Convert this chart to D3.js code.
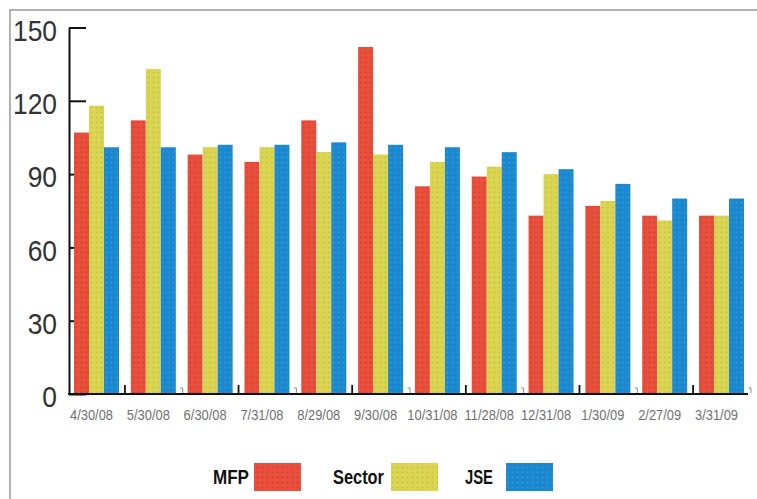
<!DOCTYPE html>
<html>
<head>
<meta charset="utf-8">
<script src="https://cdn.jsdelivr.net/npm/d3@7"></script>
<style>
  html, body { margin: 0; padding: 0; background: #fff; }
  svg { display: block; }
  .sans { font-family: "Liberation Sans", Arial, sans-serif; }
</style>
</head>
<body>
<svg id="chart" width="757" height="499"></svg>
<script>
// Month-end dates on the x axis
const categories = ["4/30/08", "5/30/08", "6/30/08", "7/31/08", "8/29/08", "9/30/08",
                    "10/31/08", "11/28/08", "12/31/08", "1/30/09", "2/27/09", "3/31/09"];
// Series names and values
const seriesNames = ["MFP", "Sector", "JSE"];
const mfpValues    = [107, 112, 98, 95, 112, 142, 85, 89, 73, 77, 73, 73];
const sectorValues = [118, 133, 101, 101, 99, 98, 95, 93, 90, 79, 71, 73];
const jseValues    = [101, 101, 102, 102, 103, 102, 101, 99, 92, 86, 80, 80];
// Y axis ticks
const yTicks = [0, 30, 60, 90, 120, 150];

const seriesValues = [mfpValues, sectorValues, jseValues];
const fills = {
  MFP:    { base: "#e9503c", dot: "#d83a32" },
  Sector: { base: "#dcd552", dot: "#bfc24a" },
  JSE:    { base: "#1a88ce", dot: "#3598d8" }
};

const svg = d3.select("#chart");

// Squeeze a text element horizontally to imitate a condensed face
function condense(sel, factor) {
  sel.each(function () {
    const len = this.getComputedTextLength();
    d3.select(this)
      .attr("textLength", len * factor)
      .attr("lengthAdjust", "spacingAndGlyphs");
  });
}

// Dotted textures for the bars
const defs = svg.append("defs");
seriesNames.forEach(name => {
  const p = defs.append("pattern")
    .attr("id", "pat-" + name)
    .attr("patternUnits", "userSpaceOnUse")
    .attr("width", 5).attr("height", 5);
  p.append("rect").attr("width", 5).attr("height", 5).attr("fill", fills[name].base);
  p.append("circle").attr("cx", 2.5).attr("cy", 2.5).attr("r", 0.9).attr("fill", fills[name].dot);
});

// Frame lines along top and left
svg.append("path")
  .attr("d", "M10,499V10H757")
  .attr("fill", "none")
  .attr("stroke", "#9a9a9a")
  .attr("stroke-width", 1.5);

const y = d3.scaleLinear().domain([0, 150]).range([394, 27.5]);
const x0 = d3.scaleBand().domain(categories).range([74, 744]).paddingInner(0.208).paddingOuter(0);
const x1 = d3.scaleBand().domain(seriesNames).range([0, x0.bandwidth()]).padding(0);

// Y axis with inward ticks
const yAxis = svg.append("g")
  .attr("transform", "translate(69,0)")
  .call(d3.axisLeft(y).tickValues(yTicks).tickSizeInner(-17).tickSizeOuter(0).tickPadding(12));
yAxis.select(".domain").attr("stroke", "#111").attr("stroke-width", 2);
yAxis.selectAll(".tick line").attr("stroke", "#111").attr("stroke-width", 2);
yAxis.selectAll(".tick text")
  .attr("class", "sans")
  .attr("font-size", 30)
  .attr("fill", "#333")
  .attr("dy", "0.42em")
  .call(condense, 0.88);

// Bars
const groups = svg.append("g").selectAll("g")
  .data(categories)
  .join("g")
  .attr("transform", d => `translate(${x0(d)},0)`);

groups.selectAll("rect")
  .data((d, i) => seriesNames.map((s, k) => ({ s, v: seriesValues[k][i] })))
  .join("rect")
  .attr("x", d => x1(d.s))
  .attr("width", x1.bandwidth())
  .attr("y", d => y(d.v))
  .attr("height", d => y(0) - y(d.v))
  .attr("fill", d => `url(#pat-${d.s})`);

// X baseline
svg.append("line")
  .attr("x1", 68).attr("x2", 748)
  .attr("y1", y(0)).attr("y2", y(0))
  .attr("stroke", "#111").attr("stroke-width", 2);

// Group separators: alternating tall black and small grey marks
const step = x0.step();
const gap = step - x0.bandwidth();
categories.forEach((c, i) => {
  const bx = x0(c) + x0.bandwidth() + gap / 2;
  if (i % 2 === 0) {
    svg.append("line")
      .attr("x1", bx).attr("x2", bx)
      .attr("y1", y(0) - 9).attr("y2", y(0))
      .attr("stroke", "#111").attr("stroke-width", 1.8);
  } else {
    svg.append("path")
      .attr("d", `M${bx - 1.5},${y(0) - 6} h2.5 v5`)
      .attr("fill", "none")
      .attr("stroke", "#888").attr("stroke-width", 1);
  }
});

// X labels
const xAxis = svg.append("g")
  .attr("transform", `translate(-5,${y(0)})`)
  .call(d3.axisBottom(x0).tickSize(0).tickPadding(15));
xAxis.select(".domain").remove();
xAxis.selectAll(".tick text")
  .attr("class", "sans")
  .attr("font-size", 15)
  .attr("fill", "#707070")
  .call(condense, 0.86);

// Legend
const legendItems = [
  { name: "MFP",    textX: 213, textW: 36, boxX: 254 },
  { name: "Sector", textX: 333, textW: 51, boxX: 391 },
  { name: "JSE",    textX: 465, textW: 28, boxX: 506 }
];
const legend = svg.append("g");
legend.selectAll("text")
  .data(legendItems)
  .join("text")
  .attr("class", "sans")
  .attr("x", d => d.textX)
  .attr("y", 484)
  .attr("font-size", 20)
  .attr("font-weight", "bold")
  .attr("fill", "#111")
  .attr("textLength", d => d.textW)
  .attr("lengthAdjust", "spacingAndGlyphs")
  .text(d => d.name);
legend.selectAll("rect")
  .data(legendItems)
  .join("rect")
  .attr("x", d => d.boxX)
  .attr("y", 463)
  .attr("width", 47)
  .attr("height", 28)
  .attr("fill", d => `url(#pat-${d.name})`);
</script>
</body>
</html>
